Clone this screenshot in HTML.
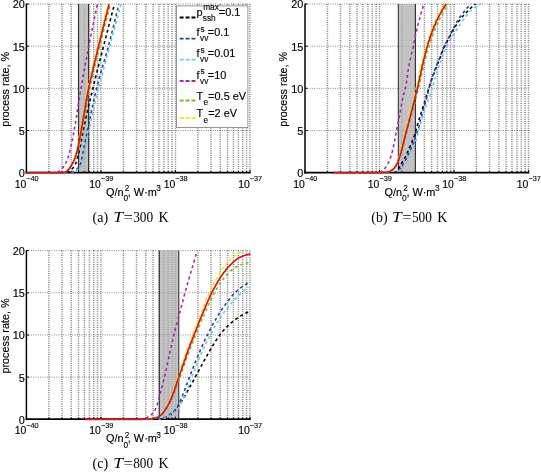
<!DOCTYPE html>
<html><head><meta charset="utf-8"><title>process rate</title>
<style>
html,body{margin:0;padding:0;background:#fff;}
body{width:541px;height:472px;overflow:hidden;}
svg{display:block;}
text{font-family:"Liberation Sans",sans-serif;fill:#000;}
.m{font-size:10.9px;stroke:#000;stroke-width:0.15px;}
.s{font-size:7.3px;stroke:#000;stroke-width:0.12px;}
.s2{font-size:8.3px;stroke:#000;stroke-width:0.12px;}
.c{font-family:"Liberation Serif",serif;font-size:14px;}
</style></head><body>
<svg width="541" height="472" viewBox="0 0 541 472">
<rect width="541" height="472" fill="#fff"/>
<path d="M48.88 4.0V172.7M62.00 4.0V172.7M71.30 4.0V172.7M78.52 4.0V172.7M84.42 4.0V172.7M89.41 4.0V172.7M93.73 4.0V172.7M97.54 4.0V172.7M100.95 4.0V172.7M123.38 4.0V172.7M136.50 4.0V172.7M145.80 4.0V172.7M153.02 4.0V172.7M158.92 4.0V172.7M163.91 4.0V172.7M168.23 4.0V172.7M172.04 4.0V172.7M175.45 4.0V172.7M197.88 4.0V172.7M211.00 4.0V172.7M220.30 4.0V172.7M227.52 4.0V172.7M233.42 4.0V172.7M238.41 4.0V172.7M242.73 4.0V172.7M246.54 4.0V172.7M249.95 4.0V172.7" stroke="#1a1a1a" stroke-width="1.5" stroke-opacity="0.55" stroke-dasharray="0.9 1.35" fill="none"/>
<path d="M26.4 130.52H249.9M26.4 88.35H249.9M26.4 46.18H249.9M26.4 4.00H249.9" stroke="#1a1a1a" stroke-width="0.8" stroke-opacity="0.7" stroke-dasharray="0.9 1.4" fill="none"/>
<rect x="78.6" y="4.0" width="10.0" height="168.7" fill="#afafaf" fill-opacity="0.75"/>
<path d="M78.6 4.0V172.7M88.6 4.0V172.7" stroke="#111" stroke-width="0.9" fill="none"/>
<path d="M26.4 3.7V173.5" stroke="#000" stroke-width="1.5" fill="none"/>
<path d="M25.7 172.6H250.8" stroke="#000" stroke-width="1.8" fill="none"/>
<path d="M26.4 172.7h2.6M26.4 130.5h2.6M26.4 88.3h2.6M26.4 46.2h2.6M26.4 4.0h2.6M26.4 172.7v-2.7M101.0 172.7v-2.7M175.4 172.7v-2.7M249.9 172.7v-2.7M48.9 172.7v-1.7M62.0 172.7v-1.7M71.3 172.7v-1.7M78.5 172.7v-1.7M84.4 172.7v-1.7M89.4 172.7v-1.7M93.7 172.7v-1.7M97.5 172.7v-1.7M123.4 172.7v-1.7M136.5 172.7v-1.7M145.8 172.7v-1.7M153.0 172.7v-1.7M158.9 172.7v-1.7M163.9 172.7v-1.7M168.2 172.7v-1.7M172.0 172.7v-1.7M197.9 172.7v-1.7M211.0 172.7v-1.7M220.3 172.7v-1.7M227.5 172.7v-1.7M233.4 172.7v-1.7M238.4 172.7v-1.7M242.7 172.7v-1.7M246.5 172.7v-1.7" stroke="#000" stroke-width="1" fill="none"/>
<path d="M67.0 172.5 L69.1 171.4 L70.9 170.0 L72.5 168.6 L73.9 166.9 L75.0 164.9 L76.0 162.9 L76.7 160.8 L77.3 158.6 L77.9 156.4 L78.5 154.3 L79.0 152.1 L79.5 149.9 L80.0 147.7 L80.5 145.6 L80.9 143.4 L81.3 141.2 L81.6 138.9 L82.0 136.7 L82.4 134.5 L82.8 132.3 L83.3 130.1 L83.7 128.0 L84.2 125.8 L84.7 123.6 L85.1 121.4 L85.6 119.2 L86.1 117.0 L86.6 114.8 L87.1 112.7 L87.6 110.5 L88.1 108.3 L88.6 106.1 L89.1 103.9 L89.7 101.8 L90.2 99.6 L90.7 97.4 L91.2 95.2 L91.8 93.1 L92.3 90.9 L92.8 88.7 L93.3 86.5 L93.9 84.4 L94.4 82.2 L94.9 80.0 L95.5 77.8 L96.0 75.7 L96.5 73.5 L97.1 71.3 L97.6 69.2 L98.2 67.0 L98.7 64.8 L99.3 62.7 L99.8 60.5 L100.4 58.3 L100.9 56.2 L101.5 54.0 L102.1 51.8 L102.6 49.7 L103.2 47.5 L103.7 45.3 L104.3 43.2 L104.8 41.0 L105.4 38.8 L106.0 36.7 L106.5 34.5 L107.1 32.3 L107.7 30.2 L108.2 28.0 L108.8 25.8 L109.3 23.7 L109.9 21.5 L110.5 19.3 L111.1 17.2 L111.6 15.0 L112.2 12.8 L112.8 10.7 L113.3 8.5 L113.9 6.4 L114.5 4.2" stroke="#000000" stroke-width="1.6" stroke-dasharray="3.0 2.9" stroke-dashoffset="0" fill="none" stroke-linejoin="round"/>
<path d="M71.0 172.5 L73.2 171.6 L75.1 170.5 L76.9 169.1 L78.4 167.5 L79.7 165.6 L80.5 163.6 L81.2 161.5 L81.7 159.2 L82.2 157.0 L82.7 154.8 L83.1 152.6 L83.5 150.4 L83.9 148.2 L84.3 146.0 L84.7 143.8 L85.2 141.6 L85.6 139.4 L86.1 137.2 L86.5 135.0 L87.0 132.8 L87.5 130.6 L87.9 128.4 L88.4 126.2 L88.8 124.0 L89.3 121.8 L89.7 119.6 L90.2 117.4 L90.6 115.2 L91.1 113.0 L91.6 110.8 L92.0 108.6 L92.5 106.4 L93.0 104.2 L93.4 102.0 L93.9 99.8 L94.4 97.6 L94.9 95.4 L95.4 93.2 L95.9 91.1 L96.5 88.9 L97.0 86.7 L97.5 84.5 L98.1 82.4 L98.7 80.2 L99.3 78.0 L99.9 75.9 L100.5 73.7 L101.1 71.5 L101.8 69.4 L102.4 67.2 L103.0 65.1 L103.7 62.9 L104.3 60.8 L104.9 58.6 L105.6 56.5 L106.2 54.3 L106.8 52.1 L107.4 50.0 L108.0 47.8 L108.6 45.6 L109.1 43.5 L109.7 41.3 L110.2 39.1 L110.8 36.9 L111.4 34.8 L111.9 32.6 L112.5 30.4 L113.0 28.2 L113.6 26.0 L114.1 23.9 L114.6 21.7 L115.2 19.5 L115.7 17.3 L116.2 15.1 L116.7 12.9 L117.3 10.8 L117.8 8.6 L118.3 6.4 L118.8 4.2" stroke="#2a3fb0" stroke-width="1.6" stroke-dasharray="3.0 2.9" stroke-dashoffset="0" fill="none" stroke-linejoin="round"/>
<path d="M72.5 172.5 L74.7 171.6 L76.6 170.4 L78.4 169.1 L80.0 167.6 L81.3 165.7 L82.2 163.7 L82.8 161.6 L83.3 159.3 L83.8 157.1 L84.3 154.9 L84.7 152.7 L85.1 150.5 L85.5 148.3 L85.9 146.1 L86.3 143.9 L86.7 141.6 L87.2 139.4 L87.6 137.2 L88.0 135.0 L88.5 132.8 L89.0 130.6 L89.4 128.4 L89.9 126.2 L90.4 124.0 L90.8 121.8 L91.3 119.6 L91.8 117.4 L92.3 115.2 L92.7 113.0 L93.2 110.8 L93.7 108.6 L94.2 106.4 L94.7 104.3 L95.2 102.1 L95.7 99.9 L96.2 97.7 L96.8 95.5 L97.3 93.3 L97.8 91.1 L98.3 88.9 L98.9 86.8 L99.4 84.6 L100.0 82.4 L100.5 80.2 L101.1 78.1 L101.7 75.9 L102.3 73.7 L102.9 71.5 L103.5 69.4 L104.0 67.2 L104.6 65.0 L105.2 62.9 L105.8 60.7 L106.4 58.5 L107.0 56.4 L107.6 54.2 L108.2 52.0 L108.8 49.8 L109.4 47.7 L110.0 45.5 L110.6 43.3 L111.1 41.2 L111.7 39.0 L112.3 36.8 L112.9 34.6 L113.4 32.5 L114.0 30.3 L114.6 28.1 L115.2 25.9 L115.7 23.8 L116.3 21.6 L116.9 19.4 L117.5 17.2 L118.0 15.1 L118.6 12.9 L119.2 10.7 L119.8 8.5 L120.3 6.4 L120.9 4.2" stroke="#6cc9e4" stroke-width="1.6" stroke-dasharray="3.0 2.9" stroke-dashoffset="2" fill="none" stroke-linejoin="round"/>
<path d="M57.7 172.5 L59.5 171.1 L61.2 169.6 L62.6 168.0 L63.8 166.3 L65.0 164.4 L66.1 162.4 L67.0 160.3 L67.8 158.3 L68.5 156.2 L69.1 154.1 L69.7 151.9 L70.2 149.8 L70.7 147.6 L71.2 145.5 L71.7 143.3 L72.1 141.1 L72.6 139.0 L73.0 136.8 L73.4 134.6 L73.8 132.4 L74.2 130.3 L74.6 128.1 L74.9 125.9 L75.3 123.7 L75.7 121.6 L76.0 119.4 L76.4 117.2 L76.7 115.0 L77.1 112.8 L77.4 110.6 L77.7 108.5 L78.1 106.3 L78.4 104.1 L78.8 101.9 L79.1 99.7 L79.5 97.5 L79.8 95.4 L80.2 93.2 L80.5 91.0 L80.9 88.8 L81.3 86.6 L81.7 84.5 L82.1 82.3 L82.4 80.1 L82.8 77.9 L83.2 75.8 L83.6 73.6 L84.0 71.4 L84.4 69.2 L84.8 67.1 L85.2 64.9 L85.6 62.7 L86.1 60.5 L86.5 58.4 L86.9 56.2 L87.3 54.0 L87.7 51.9 L88.1 49.7 L88.5 47.5 L89.0 45.3 L89.4 43.2 L89.8 41.0 L90.2 38.8 L90.7 36.7 L91.1 34.5 L91.5 32.3 L92.0 30.2 L92.4 28.0 L92.9 25.8 L93.3 23.7 L93.8 21.5 L94.2 19.3 L94.7 17.2 L95.1 15.0 L95.6 12.8 L96.0 10.7 L96.5 8.5 L96.9 6.4 L97.4 4.2" stroke="#a628a8" stroke-width="1.6" stroke-dasharray="3.0 2.9" stroke-dashoffset="0" fill="none" stroke-linejoin="round"/>
<path d="M64.7 172.5 L66.7 171.3 L68.3 169.9 L69.8 168.2 L71.0 166.3 L72.2 164.5 L73.3 162.5 L74.4 160.5 L75.3 158.5 L76.1 156.5 L76.9 154.4 L77.5 152.2 L78.1 150.1 L78.7 147.9 L79.2 145.7 L79.6 143.5 L80.1 141.4 L80.5 139.2 L80.9 137.0 L81.3 134.8 L81.7 132.6 L82.1 130.4 L82.5 128.2 L82.9 126.0 L83.3 123.8 L83.7 121.6 L84.1 119.4 L84.4 117.2 L84.8 115.0 L85.2 112.8 L85.6 110.6 L86.0 108.4 L86.4 106.2 L86.7 104.0 L87.1 101.8 L87.5 99.6 L88.0 97.4 L88.4 95.2 L88.8 93.1 L89.2 90.9 L89.7 88.7 L90.1 86.5 L90.6 84.3 L91.1 82.1 L91.6 80.0 L92.1 77.8 L92.6 75.6 L93.1 73.5 L93.6 71.3 L94.1 69.1 L94.6 66.9 L95.2 64.8 L95.7 62.6 L96.2 60.4 L96.8 58.3 L97.3 56.1 L97.9 53.9 L98.4 51.8 L98.9 49.6 L99.5 47.5 L100.0 45.3 L100.5 43.1 L101.1 41.0 L101.6 38.8 L102.1 36.6 L102.7 34.5 L103.2 32.3 L103.8 30.1 L104.3 28.0 L104.9 25.8 L105.4 23.6 L106.0 21.5 L106.5 19.3 L107.1 17.2 L107.6 15.0 L108.2 12.8 L108.7 10.7 L109.3 8.5 L109.8 6.4 L110.4 4.2" stroke="#7bbf22" stroke-width="1.6" stroke-dasharray="3.0 2.9" stroke-dashoffset="0" fill="none" stroke-linejoin="round"/>
<path d="M64.7 172.5 L66.6 171.3 L68.2 169.9 L69.5 168.1 L70.7 166.1 L71.8 164.2 L72.8 162.2 L73.7 160.2 L74.5 158.1 L75.1 156.0 L75.7 153.9 L76.2 151.7 L76.6 149.5 L77.1 147.3 L77.5 145.2 L77.9 143.0 L78.4 140.8 L78.8 138.6 L79.2 136.4 L79.6 134.2 L80.0 132.1 L80.4 129.9 L80.7 127.7 L81.1 125.5 L81.5 123.3 L81.9 121.1 L82.2 118.9 L82.6 116.8 L83.0 114.6 L83.3 112.4 L83.7 110.2 L84.1 108.0 L84.4 105.8 L84.8 103.6 L85.2 101.4 L85.6 99.3 L86.0 97.1 L86.4 94.9 L86.8 92.7 L87.2 90.5 L87.6 88.4 L88.1 86.2 L88.5 84.0 L89.0 81.8 L89.5 79.7 L90.0 77.5 L90.4 75.3 L90.9 73.2 L91.4 71.0 L91.9 68.9 L92.5 66.7 L93.0 64.5 L93.5 62.4 L94.0 60.2 L94.5 58.1 L95.1 55.9 L95.6 53.8 L96.1 51.6 L96.6 49.4 L97.2 47.3 L97.7 45.1 L98.2 43.0 L98.7 40.8 L99.2 38.7 L99.8 36.5 L100.3 34.3 L100.8 32.2 L101.3 30.0 L101.9 27.9 L102.4 25.7 L102.9 23.6 L103.5 21.4 L104.0 19.3 L104.5 17.1 L105.1 15.0 L105.6 12.8 L106.2 10.7 L106.7 8.5 L107.3 6.4 L107.8 4.2" stroke="#f7e600" stroke-width="1.6" stroke-dasharray="3.0 2.9" stroke-dashoffset="3" fill="none" stroke-linejoin="round"/>
<path d="M26.4 172.7 L29.2 172.7 L31.9 172.7 L34.6 172.7 L37.3 172.7 L40.0 172.7 L42.7 172.7 L45.4 172.7 L48.2 172.7 L51.0 172.7 L53.8 172.7 L56.6 172.6 L59.3 172.6 L61.9 172.6 L64.4 172.5 L66.8 171.4 L68.7 169.4 L70.3 167.2 L71.7 164.9 L73.0 162.5 L74.2 160.0 L75.2 157.5 L76.0 155.0 L76.7 152.4 L77.4 149.7 L78.0 147.1 L78.6 144.4 L79.1 141.8 L79.6 139.1 L80.1 136.4 L80.6 133.8 L81.1 131.1 L81.5 128.4 L82.0 125.8 L82.5 123.1 L82.9 120.4 L83.4 117.8 L83.8 115.1 L84.3 112.4 L84.8 109.7 L85.2 107.1 L85.7 104.4 L86.1 101.7 L86.6 99.1 L87.1 96.4 L87.6 93.7 L88.1 91.1 L88.7 88.4 L89.2 85.8 L89.8 83.1 L90.4 80.5 L91.0 77.9 L91.6 75.2 L92.2 72.6 L92.8 69.9 L93.4 67.3 L94.1 64.7 L94.7 62.0 L95.4 59.4 L96.0 56.8 L96.7 54.1 L97.3 51.5 L97.9 48.9 L98.6 46.2 L99.2 43.6 L99.9 41.0 L100.5 38.4 L101.2 35.7 L101.8 33.1 L102.5 30.5 L103.1 27.8 L103.8 25.2 L104.4 22.6 L105.1 20.0 L105.8 17.3 L106.4 14.7 L107.1 12.1 L107.8 9.4 L108.4 6.8 L109.1 4.2" stroke="#e0141c" stroke-width="1.7" fill="none" stroke-linejoin="round"/>
<text x="24.8" y="177.1" text-anchor="end" class="m">0</text>
<text x="24.8" y="134.9" text-anchor="end" class="m">5</text>
<text x="24.8" y="92.8" text-anchor="end" class="m">10</text>
<text x="24.8" y="50.6" text-anchor="end" class="m">15</text>
<text x="24.8" y="8.4" text-anchor="end" class="m">20</text>
<text x="26.3" y="187.7" text-anchor="end" class="m" textLength="11.6" lengthAdjust="spacingAndGlyphs">10</text>
<text x="26.3" y="181.4" class="s">−40</text>
<text x="100.9" y="187.7" text-anchor="end" class="m" textLength="11.6" lengthAdjust="spacingAndGlyphs">10</text>
<text x="100.9" y="181.4" class="s">−39</text>
<text x="175.3" y="187.7" text-anchor="end" class="m" textLength="11.6" lengthAdjust="spacingAndGlyphs">10</text>
<text x="175.3" y="181.4" class="s">−38</text>
<text x="249.8" y="187.7" text-anchor="end" class="m" textLength="11.6" lengthAdjust="spacingAndGlyphs">10</text>
<text x="249.8" y="181.4" class="s">−37</text>
<text x="106.0" y="195.5" class="m">Q/n</text>
<text x="124.7" y="191.4" class="s2">2</text>
<text x="123.5" y="200.9" class="s2">0</text>
<text x="127.8" y="195.5" class="m">, W·m</text>
<text x="156.3" y="191.4" class="s2">3</text>
<text transform="translate(8.8 89.3) rotate(-90)" text-anchor="middle" class="m" style="font-size:10.8px">process rate, %</text>
<rect x="176.4" y="5.9" width="71.5" height="121.6" fill="#fff" stroke="#7a7a7a" stroke-width="0.8"/>
<path d="M179.7 17.5H195.4" stroke="#000000" stroke-width="1.8" stroke-dasharray="3.9 2.0" fill="none"/>
<text x="196.6" y="16.1" class="m">p</text>
<text x="203.2" y="10.3" class="s2">max</text>
<text x="202.8" y="20.7" class="s2">ssh</text>
<text x="218.8" y="16.1" class="m">=0.1</text>
<path d="M179.7 38.7H195.4" stroke="#2a3fb0" stroke-width="1.8" stroke-dasharray="3.9 2.0" fill="none"/>
<text x="196.6" y="36.3" class="m">f</text>
<text x="200.6" y="31.9" class="s2">s</text>
<text x="200.0" y="41.3" class="s2">vv</text>
<text x="207.8" y="36.3" class="m">=0.1</text>
<path d="M179.7 59.6H195.4" stroke="#6cc9e4" stroke-width="1.8" stroke-dasharray="3.9 2.0" fill="none"/>
<text x="196.6" y="57.2" class="m">f</text>
<text x="200.6" y="52.8" class="s2">s</text>
<text x="200.0" y="62.2" class="s2">vv</text>
<text x="207.8" y="57.2" class="m">=0.01</text>
<path d="M179.7 81.0H195.4" stroke="#a628a8" stroke-width="1.8" stroke-dasharray="3.9 2.0" fill="none"/>
<text x="196.6" y="78.6" class="m">f</text>
<text x="200.6" y="74.2" class="s2">s</text>
<text x="200.0" y="83.6" class="s2">vv</text>
<text x="207.8" y="78.6" class="m">=10</text>
<path d="M179.7 100.5H195.4" stroke="#7bbf22" stroke-width="1.8" stroke-dasharray="3.9 2.0" fill="none"/>
<text x="196.6" y="99.5" class="m">T</text>
<text x="203.4" y="104.9" class="s2">e</text>
<text x="208.2" y="99.5" class="m">=0.5 eV</text>
<path d="M179.7 118.2H195.4" stroke="#f7e600" stroke-width="1.8" stroke-dasharray="3.9 2.0" fill="none"/>
<text x="196.6" y="117.2" class="m">T</text>
<text x="203.4" y="122.6" class="s2">e</text>
<text x="208.2" y="117.2" class="m">=2 eV</text>
<text y="221.5" class="c"><tspan x="92.6">(a)</tspan><tspan x="113.2" font-style="italic" textLength="9.7" lengthAdjust="spacingAndGlyphs">T</tspan><tspan x="123.6" textLength="9.4" lengthAdjust="spacingAndGlyphs">=</tspan><tspan x="133.2" textLength="20" lengthAdjust="spacingAndGlyphs">300</tspan><tspan x="158.6">K</tspan></text>
<path d="M327.43 4.0V172.7M340.55 4.0V172.7M349.85 4.0V172.7M357.07 4.0V172.7M362.97 4.0V172.7M367.96 4.0V172.7M372.28 4.0V172.7M376.09 4.0V172.7M379.50 4.0V172.7M401.93 4.0V172.7M415.05 4.0V172.7M424.35 4.0V172.7M431.57 4.0V172.7M437.47 4.0V172.7M442.46 4.0V172.7M446.78 4.0V172.7M450.59 4.0V172.7M454.00 4.0V172.7M476.43 4.0V172.7M489.55 4.0V172.7M498.85 4.0V172.7M506.07 4.0V172.7M511.97 4.0V172.7M516.96 4.0V172.7M521.28 4.0V172.7M525.09 4.0V172.7M528.50 4.0V172.7" stroke="#1a1a1a" stroke-width="1.5" stroke-opacity="0.55" stroke-dasharray="0.9 1.35" fill="none"/>
<path d="M305.0 130.52H528.5M305.0 88.35H528.5M305.0 46.18H528.5M305.0 4.00H528.5" stroke="#1a1a1a" stroke-width="0.8" stroke-opacity="0.7" stroke-dasharray="0.9 1.4" fill="none"/>
<rect x="398.3" y="4.0" width="17.1" height="168.7" fill="#afafaf" fill-opacity="0.75"/>
<path d="M398.3 4.0V172.7M415.4 4.0V172.7" stroke="#111" stroke-width="0.9" fill="none"/>
<path d="M305.0 3.7V173.5" stroke="#000" stroke-width="1.5" fill="none"/>
<path d="M304.2 172.6H529.4" stroke="#000" stroke-width="1.8" fill="none"/>
<path d="M305.0 172.7h2.6M305.0 130.5h2.6M305.0 88.3h2.6M305.0 46.2h2.6M305.0 4.0h2.6M305.0 172.7v-2.7M379.5 172.7v-2.7M454.0 172.7v-2.7M528.5 172.7v-2.7M327.4 172.7v-1.7M340.5 172.7v-1.7M349.9 172.7v-1.7M357.1 172.7v-1.7M363.0 172.7v-1.7M368.0 172.7v-1.7M372.3 172.7v-1.7M376.1 172.7v-1.7M401.9 172.7v-1.7M415.0 172.7v-1.7M424.4 172.7v-1.7M431.6 172.7v-1.7M437.5 172.7v-1.7M442.5 172.7v-1.7M446.8 172.7v-1.7M450.6 172.7v-1.7M476.4 172.7v-1.7M489.5 172.7v-1.7M498.9 172.7v-1.7M506.1 172.7v-1.7M512.0 172.7v-1.7M517.0 172.7v-1.7M521.3 172.7v-1.7M525.1 172.7v-1.7" stroke="#000" stroke-width="1" fill="none"/>
<path d="M394.0 172.6 L396.2 171.7 L397.8 169.9 L399.0 167.8 L400.2 165.7 L401.4 163.6 L402.7 161.5 L404.0 159.5 L405.2 157.4 L406.2 155.3 L407.1 153.0 L408.1 150.8 L409.0 148.6 L410.0 146.4 L411.0 144.2 L411.9 142.0 L412.8 139.8 L413.7 137.5 L414.5 135.2 L415.2 133.0 L415.9 130.6 L416.5 128.3 L417.2 126.0 L417.8 123.7 L418.5 121.4 L419.2 119.1 L419.9 116.8 L420.7 114.5 L421.4 112.2 L422.1 109.9 L422.8 107.6 L423.5 105.3 L424.3 103.0 L425.0 100.7 L425.7 98.4 L426.4 96.1 L427.1 93.8 L427.8 91.5 L428.5 89.2 L429.2 86.9 L430.0 84.6 L430.8 82.4 L431.5 80.1 L432.3 77.8 L433.1 75.6 L434.0 73.3 L434.8 71.0 L435.7 68.8 L436.6 66.6 L437.4 64.3 L438.3 62.1 L439.2 59.8 L440.1 57.6 L441.0 55.4 L441.8 53.1 L442.7 50.9 L443.7 48.7 L444.6 46.5 L445.7 44.3 L446.8 42.2 L447.9 40.0 L449.0 37.9 L450.1 35.8 L451.3 33.6 L452.4 31.5 L453.6 29.4 L454.8 27.4 L456.1 25.3 L457.4 23.3 L458.8 21.3 L460.2 19.4 L461.7 17.5 L463.3 15.7 L464.9 13.9 L466.6 12.2 L468.3 10.4 L470.0 8.8 L471.7 7.1 L473.6 5.6 L475.4 4.0" stroke="#000000" stroke-width="1.6" stroke-dasharray="3.0 2.9" stroke-dashoffset="0" fill="none" stroke-linejoin="round"/>
<path d="M395.5 172.6 L397.7 171.7 L399.3 170.0 L400.7 168.1 L401.9 166.0 L403.1 164.0 L404.4 162.0 L405.7 160.0 L406.8 157.9 L407.7 155.7 L408.6 153.5 L409.6 151.3 L410.6 149.2 L411.5 147.0 L412.5 144.9 L413.4 142.7 L414.2 140.4 L415.0 138.2 L415.8 136.0 L416.6 133.7 L417.3 131.5 L418.1 129.2 L418.8 127.0 L419.4 124.7 L420.0 122.4 L420.6 120.1 L421.2 117.8 L421.8 115.5 L422.4 113.2 L423.0 111.0 L423.6 108.7 L424.2 106.4 L424.9 104.1 L425.5 101.8 L426.2 99.6 L426.9 97.3 L427.5 95.0 L428.0 92.7 L428.5 90.4 L429.1 88.1 L429.7 85.8 L430.3 83.5 L431.0 81.2 L431.7 79.0 L432.4 76.7 L433.1 74.5 L433.9 72.2 L434.8 70.0 L435.6 67.8 L436.5 65.6 L437.4 63.4 L438.3 61.2 L439.2 59.0 L440.0 56.8 L440.8 54.6 L441.7 52.3 L442.6 50.1 L443.5 48.0 L444.4 45.8 L445.5 43.7 L446.7 41.6 L447.8 39.5 L448.9 37.4 L449.9 35.3 L451.0 33.2 L452.0 31.1 L453.1 29.0 L454.2 26.9 L455.3 24.8 L456.5 22.7 L457.6 20.6 L458.9 18.6 L460.2 16.7 L461.6 14.8 L463.1 12.9 L464.6 11.0 L466.1 9.2 L467.6 7.4 L469.2 5.7 L470.9 4.0" stroke="#2a3fb0" stroke-width="1.6" stroke-dasharray="3.0 2.9" stroke-dashoffset="2" fill="none" stroke-linejoin="round"/>
<path d="M396.5 172.6 L398.6 171.4 L400.5 169.9 L402.3 168.1 L403.8 166.3 L405.2 164.3 L406.5 162.2 L407.7 160.0 L408.6 157.8 L409.6 155.5 L410.5 153.3 L411.6 151.1 L412.6 148.8 L413.5 146.6 L414.5 144.4 L415.4 142.1 L416.2 139.8 L417.0 137.5 L417.6 135.1 L418.2 132.8 L418.8 130.4 L419.5 128.0 L420.1 125.7 L420.7 123.3 L421.4 121.0 L422.0 118.6 L422.7 116.3 L423.5 113.9 L424.3 111.6 L425.0 109.3 L425.8 107.0 L426.6 104.7 L427.3 102.4 L428.2 100.1 L429.0 97.8 L429.9 95.5 L430.8 93.2 L431.5 90.9 L432.2 88.6 L432.9 86.2 L433.5 83.8 L434.2 81.5 L434.8 79.1 L435.5 76.8 L436.2 74.4 L436.9 72.1 L437.7 69.8 L438.6 67.5 L439.5 65.2 L440.3 63.0 L441.2 60.7 L442.1 58.4 L442.9 56.1 L443.7 53.8 L444.6 51.5 L445.4 49.2 L446.4 47.0 L447.4 44.8 L448.6 42.6 L449.8 40.5 L451.1 38.4 L452.4 36.4 L453.7 34.3 L455.0 32.2 L456.3 30.2 L457.6 28.1 L459.0 26.1 L460.4 24.1 L461.8 22.1 L463.2 20.1 L464.6 18.1 L466.1 16.2 L467.7 14.3 L469.3 12.5 L471.0 10.7 L472.8 9.0 L474.7 7.5 L476.7 6.1 L478.7 4.8 L480.9 3.6" stroke="#6cc9e4" stroke-width="1.6" stroke-dasharray="3.0 2.9" stroke-dashoffset="4" fill="none" stroke-linejoin="round"/>
<path d="M379.9 172.5 L381.8 171.3 L383.6 170.0 L385.0 168.3 L386.3 166.4 L387.4 164.5 L388.4 162.6 L389.3 160.5 L390.2 158.4 L390.9 156.3 L391.6 154.2 L392.2 152.0 L392.7 149.9 L393.2 147.7 L393.7 145.5 L394.2 143.3 L394.6 141.2 L395.0 139.0 L395.4 136.8 L395.8 134.6 L396.2 132.4 L396.6 130.2 L397.0 128.0 L397.4 125.8 L397.9 123.6 L398.3 121.5 L398.8 119.3 L399.2 117.1 L399.7 114.9 L400.1 112.7 L400.5 110.5 L400.9 108.3 L401.3 106.1 L401.7 103.9 L402.1 101.7 L402.5 99.6 L402.9 97.4 L403.4 95.2 L404.0 93.1 L404.6 90.9 L405.2 88.8 L405.7 86.6 L406.1 84.4 L406.5 82.2 L406.8 80.0 L407.1 77.8 L407.4 75.6 L407.7 73.4 L408.0 71.2 L408.4 69.0 L408.7 66.8 L409.2 64.6 L409.6 62.4 L410.1 60.2 L410.6 58.1 L411.1 55.9 L411.6 53.7 L412.1 51.5 L412.6 49.4 L413.1 47.2 L413.5 45.0 L414.0 42.8 L414.4 40.7 L414.9 38.5 L415.3 36.3 L415.8 34.1 L416.3 31.9 L416.8 29.8 L417.4 27.6 L417.9 25.4 L418.4 23.3 L419.0 21.1 L419.6 19.0 L420.1 16.8 L420.7 14.7 L421.3 12.5 L422.0 10.4 L422.6 8.3 L423.2 6.1 L423.9 4.0" stroke="#a628a8" stroke-width="1.6" stroke-dasharray="3.0 2.9" stroke-dashoffset="0" fill="none" stroke-linejoin="round"/>
<path d="M385.5 172.3 L387.8 171.9 L390.0 171.2 L392.1 170.1 L393.9 168.7 L395.4 166.9 L396.7 164.9 L397.7 162.9 L398.7 160.8 L399.5 158.6 L400.3 156.3 L401.0 154.1 L401.7 151.9 L402.3 149.7 L403.0 147.4 L403.6 145.2 L404.2 143.0 L404.8 140.7 L405.3 138.4 L405.9 136.2 L406.4 133.9 L407.0 131.7 L407.6 129.4 L408.2 127.2 L408.8 124.9 L409.4 122.7 L410.1 120.5 L410.7 118.2 L411.3 116.0 L411.9 113.7 L412.5 111.5 L413.1 109.2 L413.7 107.0 L414.2 104.7 L414.8 102.5 L415.4 100.2 L416.0 98.0 L416.6 95.7 L417.2 93.5 L417.8 91.2 L418.4 89.0 L418.9 86.7 L419.5 84.4 L420.0 82.2 L420.5 79.9 L421.0 77.6 L421.5 75.4 L422.0 73.1 L422.6 70.8 L423.1 68.6 L423.6 66.3 L424.2 64.0 L424.7 61.8 L425.3 59.5 L425.9 57.3 L426.5 55.0 L427.1 52.8 L427.7 50.5 L428.4 48.3 L429.1 46.1 L429.8 43.9 L430.5 41.6 L431.2 39.4 L432.0 37.3 L432.8 35.1 L433.6 32.9 L434.5 30.7 L435.3 28.6 L436.2 26.4 L437.2 24.3 L438.1 22.2 L439.1 20.1 L440.2 18.0 L441.2 15.9 L442.4 13.9 L443.5 11.9 L444.7 9.9 L445.9 7.9 L447.2 5.9 L448.5 4.0" stroke="#7bbf22" stroke-width="1.6" stroke-dasharray="3.0 2.9" stroke-dashoffset="0" fill="none" stroke-linejoin="round"/>
<path d="M385.5 172.3 L387.8 171.9 L390.0 171.2 L392.0 170.1 L393.7 168.6 L395.2 166.8 L396.3 164.7 L397.2 162.6 L397.9 160.4 L398.6 158.2 L399.3 156.0 L399.9 153.7 L400.4 151.5 L400.9 149.3 L401.5 147.0 L402.0 144.8 L402.5 142.5 L403.1 140.3 L403.6 138.0 L404.2 135.8 L404.7 133.5 L405.3 131.3 L405.8 129.1 L406.4 126.8 L407.0 124.6 L407.6 122.4 L408.2 120.1 L408.8 117.9 L409.4 115.7 L410.0 113.4 L410.6 111.2 L411.1 109.0 L411.7 106.7 L412.2 104.5 L412.8 102.2 L413.3 100.0 L413.9 97.8 L414.4 95.5 L415.0 93.3 L415.6 91.0 L416.1 88.8 L416.7 86.6 L417.2 84.3 L417.7 82.0 L418.1 79.8 L418.6 77.5 L419.1 75.3 L419.6 73.0 L420.0 70.7 L420.5 68.5 L421.0 66.2 L421.5 64.0 L422.1 61.7 L422.6 59.5 L423.2 57.3 L423.7 55.0 L424.3 52.8 L424.9 50.5 L425.5 48.3 L426.1 46.1 L426.8 43.9 L427.4 41.7 L428.1 39.5 L428.9 37.3 L429.6 35.1 L430.4 32.9 L431.2 30.8 L432.0 28.6 L432.9 26.4 L433.8 24.3 L434.7 22.2 L435.7 20.1 L436.6 18.0 L437.7 16.0 L438.8 13.9 L439.9 11.9 L441.0 9.9 L442.2 7.9 L443.4 6.0 L444.7 4.0" stroke="#f7e600" stroke-width="1.6" stroke-dasharray="3.0 2.9" stroke-dashoffset="3" fill="none" stroke-linejoin="round"/>
<path d="M333.5 172.7 L336.5 172.7 L339.4 172.7 L342.4 172.7 L345.4 172.7 L348.4 172.7 L351.3 172.7 L354.3 172.7 L357.3 172.7 L360.3 172.7 L363.2 172.7 L366.2 172.7 L369.2 172.7 L372.2 172.6 L375.2 172.6 L378.2 172.5 L381.1 172.4 L384.1 172.4 L387.0 172.1 L389.9 171.2 L392.5 169.8 L394.6 167.8 L396.3 165.3 L397.6 162.6 L398.6 159.8 L399.6 157.0 L400.5 154.2 L401.3 151.3 L402.0 148.4 L402.8 145.5 L403.5 142.7 L404.2 139.8 L404.9 136.9 L405.6 134.0 L406.3 131.1 L407.1 128.2 L407.9 125.4 L408.7 122.5 L409.4 119.6 L410.2 116.8 L411.0 113.9 L411.7 111.0 L412.4 108.1 L413.1 105.2 L413.9 102.3 L414.6 99.4 L415.3 96.6 L416.0 93.7 L416.8 90.8 L417.5 87.9 L418.2 85.0 L418.8 82.1 L419.4 79.2 L420.1 76.3 L420.7 73.4 L421.3 70.5 L421.9 67.6 L422.6 64.7 L423.3 61.8 L424.0 58.9 L424.7 56.0 L425.5 53.1 L426.2 50.3 L427.0 47.4 L427.9 44.5 L428.7 41.7 L429.6 38.9 L430.6 36.1 L431.6 33.3 L432.6 30.5 L433.7 27.7 L434.9 24.9 L436.1 22.2 L437.3 19.5 L438.6 16.9 L440.0 14.2 L441.4 11.6 L442.9 9.1 L444.5 6.5 L446.1 4.0" stroke="#e0141c" stroke-width="1.7" fill="none" stroke-linejoin="round"/>
<text x="303.3" y="177.1" text-anchor="end" class="m">0</text>
<text x="303.3" y="134.9" text-anchor="end" class="m">5</text>
<text x="303.3" y="92.8" text-anchor="end" class="m">10</text>
<text x="303.3" y="50.6" text-anchor="end" class="m">15</text>
<text x="303.3" y="8.4" text-anchor="end" class="m">20</text>
<text x="304.9" y="187.7" text-anchor="end" class="m" textLength="11.6" lengthAdjust="spacingAndGlyphs">10</text>
<text x="304.9" y="181.4" class="s">−40</text>
<text x="379.4" y="187.7" text-anchor="end" class="m" textLength="11.6" lengthAdjust="spacingAndGlyphs">10</text>
<text x="379.4" y="181.4" class="s">−39</text>
<text x="453.9" y="187.7" text-anchor="end" class="m" textLength="11.6" lengthAdjust="spacingAndGlyphs">10</text>
<text x="453.9" y="181.4" class="s">−38</text>
<text x="528.4" y="187.7" text-anchor="end" class="m" textLength="11.6" lengthAdjust="spacingAndGlyphs">10</text>
<text x="528.4" y="181.4" class="s">−37</text>
<text x="384.5" y="195.5" class="m">Q/n</text>
<text x="403.2" y="191.4" class="s2">2</text>
<text x="402.0" y="200.9" class="s2">0</text>
<text x="406.4" y="195.5" class="m">, W·m</text>
<text x="434.9" y="191.4" class="s2">3</text>
<text transform="translate(287.4 89.3) rotate(-90)" text-anchor="middle" class="m" style="font-size:10.8px">process rate, %</text>
<text y="221.5" class="c"><tspan x="371.3">(b)</tspan><tspan x="391.9" font-style="italic" textLength="9.7" lengthAdjust="spacingAndGlyphs">T</tspan><tspan x="402.3" textLength="9.4" lengthAdjust="spacingAndGlyphs">=</tspan><tspan x="411.9" textLength="20" lengthAdjust="spacingAndGlyphs">500</tspan><tspan x="437.3">K</tspan></text>
<path d="M48.88 250.6V419.3M62.00 250.6V419.3M71.30 250.6V419.3M78.52 250.6V419.3M84.42 250.6V419.3M89.41 250.6V419.3M93.73 250.6V419.3M97.54 250.6V419.3M100.95 250.6V419.3M123.38 250.6V419.3M136.50 250.6V419.3M145.80 250.6V419.3M153.02 250.6V419.3M158.92 250.6V419.3M163.91 250.6V419.3M168.23 250.6V419.3M172.04 250.6V419.3M175.45 250.6V419.3M197.88 250.6V419.3M211.00 250.6V419.3M220.30 250.6V419.3M227.52 250.6V419.3M233.42 250.6V419.3M238.41 250.6V419.3M242.73 250.6V419.3M246.54 250.6V419.3M249.95 250.6V419.3" stroke="#1a1a1a" stroke-width="1.5" stroke-opacity="0.55" stroke-dasharray="0.9 1.35" fill="none"/>
<path d="M26.4 377.12H249.9M26.4 334.95H249.9M26.4 292.78H249.9M26.4 250.60H249.9" stroke="#1a1a1a" stroke-width="0.8" stroke-opacity="0.7" stroke-dasharray="0.9 1.4" fill="none"/>
<rect x="159.3" y="250.6" width="19.5" height="168.7" fill="#afafaf" fill-opacity="0.75"/>
<path d="M159.3 250.6V419.3M178.8 250.6V419.3" stroke="#111" stroke-width="0.9" fill="none"/>
<path d="M26.4 250.3V420.1" stroke="#000" stroke-width="1.5" fill="none"/>
<path d="M25.7 419.2H250.8" stroke="#000" stroke-width="1.8" fill="none"/>
<path d="M26.4 419.3h2.6M26.4 377.1h2.6M26.4 335.0h2.6M26.4 292.8h2.6M26.4 250.6h2.6M26.4 419.3v-2.7M101.0 419.3v-2.7M175.4 419.3v-2.7M249.9 419.3v-2.7M48.9 419.3v-1.7M62.0 419.3v-1.7M71.3 419.3v-1.7M78.5 419.3v-1.7M84.4 419.3v-1.7M89.4 419.3v-1.7M93.7 419.3v-1.7M97.5 419.3v-1.7M123.4 419.3v-1.7M136.5 419.3v-1.7M145.8 419.3v-1.7M153.0 419.3v-1.7M158.9 419.3v-1.7M163.9 419.3v-1.7M168.2 419.3v-1.7M172.0 419.3v-1.7M197.9 419.3v-1.7M211.0 419.3v-1.7M220.3 419.3v-1.7M227.5 419.3v-1.7M233.4 419.3v-1.7M238.4 419.3v-1.7M242.7 419.3v-1.7M246.5 419.3v-1.7" stroke="#000" stroke-width="1" fill="none"/>
<path d="M158.0 419.2 L159.9 419.1 L161.8 418.7 L163.6 418.3 L165.3 417.8 L167.0 417.2 L168.6 416.4 L170.2 415.4 L171.7 414.2 L173.1 413.0 L174.3 411.7 L175.5 410.3 L176.7 408.8 L177.8 407.3 L178.9 405.8 L179.9 404.3 L180.8 402.7 L181.8 401.1 L182.7 399.5 L183.6 397.9 L184.6 396.3 L185.5 394.7 L186.4 393.1 L187.3 391.5 L188.2 389.9 L189.1 388.2 L190.0 386.6 L190.9 385.0 L191.8 383.4 L192.7 381.8 L193.6 380.1 L194.4 378.5 L195.3 376.9 L196.2 375.3 L197.1 373.7 L198.0 372.0 L198.9 370.4 L199.8 368.8 L200.6 367.2 L201.5 365.5 L202.4 363.9 L203.3 362.3 L204.2 360.7 L205.0 359.0 L205.9 357.4 L206.8 355.8 L207.8 354.2 L208.7 352.6 L209.6 351.0 L210.6 349.4 L211.5 347.8 L212.5 346.2 L213.4 344.6 L214.4 343.1 L215.4 341.5 L216.4 339.9 L217.4 338.4 L218.4 336.9 L219.5 335.4 L220.6 333.9 L221.7 332.5 L222.9 331.1 L224.1 329.7 L225.4 328.3 L226.7 327.0 L228.0 325.7 L229.4 324.4 L230.8 323.2 L232.2 322.0 L233.6 320.8 L235.1 319.7 L236.6 318.6 L238.1 317.5 L239.6 316.5 L241.2 315.6 L242.8 314.7 L244.4 313.8 L246.1 313.0 L247.8 312.2 L249.5 311.5" stroke="#000000" stroke-width="1.6" stroke-dasharray="3.0 2.9" stroke-dashoffset="0" fill="none" stroke-linejoin="round"/>
<path d="M158.0 419.2 L160.2 418.9 L162.3 418.4 L164.3 417.7 L166.3 416.9 L168.1 415.8 L169.9 414.5 L171.6 413.2 L173.3 411.8 L174.9 410.3 L176.1 408.7 L177.3 406.9 L178.3 405.0 L179.2 403.1 L180.1 401.0 L181.0 399.0 L181.8 397.0 L182.7 395.1 L183.5 393.1 L184.3 391.1 L185.0 389.0 L185.8 387.0 L186.5 385.0 L187.3 383.0 L188.0 381.0 L188.8 378.9 L189.5 376.9 L190.3 374.9 L191.1 372.9 L191.9 370.9 L192.7 368.9 L193.5 366.9 L194.2 364.9 L195.0 362.9 L195.8 360.9 L196.6 358.9 L197.5 356.9 L198.3 354.9 L199.1 352.9 L200.0 351.0 L200.8 349.0 L201.7 347.0 L202.6 345.1 L203.5 343.1 L204.4 341.1 L205.3 339.2 L206.3 337.3 L207.2 335.3 L208.2 333.4 L209.2 331.5 L210.1 329.6 L211.1 327.7 L212.1 325.7 L213.2 323.8 L214.2 322.0 L215.3 320.1 L216.4 318.2 L217.5 316.4 L218.6 314.6 L219.7 312.7 L220.9 310.9 L222.1 309.1 L223.3 307.4 L224.6 305.6 L225.8 303.9 L227.1 302.1 L228.4 300.4 L229.7 298.7 L231.1 297.0 L232.5 295.3 L233.9 293.7 L235.4 292.2 L237.0 290.8 L238.6 289.5 L240.3 288.1 L242.0 286.9 L243.8 285.6 L245.7 284.5 L247.6 283.3 L249.5 282.3" stroke="#2a3fb0" stroke-width="1.6" stroke-dasharray="3.0 2.9" stroke-dashoffset="0" fill="none" stroke-linejoin="round"/>
<path d="M159.0 419.2 L161.1 419.0 L163.2 418.5 L165.2 418.0 L167.1 417.3 L168.9 416.3 L170.7 415.1 L172.4 413.9 L174.1 412.6 L175.7 411.3 L177.2 409.8 L178.4 408.2 L179.5 406.5 L180.5 404.7 L181.4 402.8 L182.3 400.9 L183.2 398.9 L184.0 397.0 L184.9 395.1 L185.7 393.2 L186.4 391.3 L187.2 389.3 L187.9 387.4 L188.6 385.4 L189.4 383.5 L190.1 381.5 L190.8 379.5 L191.6 377.6 L192.3 375.6 L193.1 373.7 L193.9 371.8 L194.6 369.8 L195.4 367.9 L196.1 365.9 L196.9 364.0 L197.7 362.1 L198.5 360.1 L199.3 358.2 L200.1 356.3 L200.9 354.4 L201.7 352.5 L202.6 350.6 L203.4 348.7 L204.3 346.8 L205.2 344.9 L206.1 343.1 L207.1 341.2 L208.0 339.3 L209.0 337.5 L210.0 335.6 L210.9 333.8 L211.9 332.0 L212.9 330.1 L213.9 328.3 L214.9 326.5 L216.0 324.7 L217.0 322.9 L218.1 321.1 L219.2 319.3 L220.3 317.6 L221.5 315.9 L222.7 314.2 L224.0 312.5 L225.2 310.8 L226.5 309.2 L227.8 307.5 L229.1 305.9 L230.4 304.3 L231.8 302.7 L233.2 301.2 L234.6 299.6 L236.0 298.1 L237.5 296.6 L238.9 295.2 L240.5 293.8 L242.0 292.4 L243.6 291.0 L245.1 289.6 L246.8 288.3 L248.4 287.0" stroke="#6cc9e4" stroke-width="1.6" stroke-dasharray="3.0 2.9" stroke-dashoffset="1.5" fill="none" stroke-linejoin="round"/>
<path d="M140.0 419.2 L142.3 419.0 L144.6 418.6 L146.7 417.7 L148.7 416.5 L150.7 415.1 L152.5 413.6 L153.9 411.8 L155.0 410.0 L155.9 408.0 L156.7 405.9 L157.5 403.7 L158.2 401.4 L158.8 399.1 L159.4 396.8 L160.0 394.4 L160.6 392.1 L161.2 389.9 L161.8 387.6 L162.4 385.4 L163.0 383.2 L163.5 380.9 L164.1 378.7 L164.6 376.4 L165.1 374.1 L165.6 371.9 L166.1 369.6 L166.6 367.3 L167.1 365.1 L167.6 362.8 L168.1 360.5 L168.6 358.3 L169.1 356.0 L169.6 353.8 L170.1 351.5 L170.6 349.2 L171.1 347.0 L171.6 344.7 L172.1 342.5 L172.7 340.2 L173.2 337.9 L173.7 335.7 L174.2 333.4 L174.8 331.2 L175.4 328.9 L176.0 326.7 L176.6 324.5 L177.2 322.2 L177.8 320.0 L178.4 317.8 L179.0 315.5 L179.6 313.3 L180.2 311.1 L180.8 308.8 L181.4 306.6 L182.0 304.3 L182.6 302.1 L183.2 299.9 L183.8 297.6 L184.3 295.4 L184.9 293.1 L185.6 290.9 L186.2 288.7 L186.8 286.4 L187.4 284.2 L188.0 282.0 L188.7 279.7 L189.3 277.5 L189.9 275.3 L190.6 273.1 L191.2 270.9 L191.9 268.6 L192.6 266.4 L193.2 264.2 L193.9 262.0 L194.6 259.8 L195.2 257.5 L195.9 255.3 L196.6 253.1 L197.3 250.9" stroke="#a628a8" stroke-width="1.6" stroke-dasharray="3.0 2.9" stroke-dashoffset="0" fill="none" stroke-linejoin="round"/>
<path d="M146.0 419.3 L148.5 419.1 L151.0 418.8 L153.5 418.4 L156.0 417.8 L158.4 417.1 L160.4 416.1 L162.2 414.3 L163.8 412.3 L165.4 410.3 L166.8 408.3 L168.2 406.2 L169.4 404.0 L170.5 401.8 L171.5 399.6 L172.5 397.3 L173.5 395.0 L174.4 392.7 L175.2 390.3 L176.1 387.9 L176.9 385.6 L177.8 383.2 L178.6 380.8 L179.5 378.5 L180.3 376.2 L181.2 373.8 L182.0 371.5 L182.9 369.1 L183.7 366.8 L184.5 364.4 L185.3 362.1 L186.2 359.7 L187.0 357.4 L187.8 355.0 L188.7 352.7 L189.6 350.3 L190.5 348.0 L191.4 345.7 L192.3 343.4 L193.2 341.1 L194.1 338.7 L195.0 336.4 L196.0 334.1 L196.9 331.8 L197.9 329.5 L198.8 327.2 L199.8 324.9 L200.8 322.6 L201.7 320.3 L202.7 318.0 L203.7 315.7 L204.7 313.5 L205.7 311.2 L206.7 308.9 L207.7 306.6 L208.8 304.3 L209.8 302.0 L210.8 299.8 L211.9 297.5 L213.1 295.3 L214.2 293.1 L215.4 291.0 L216.7 288.8 L218.0 286.7 L219.4 284.6 L220.8 282.5 L222.2 280.5 L223.7 278.5 L225.3 276.6 L226.9 274.6 L228.6 272.8 L230.4 271.0 L232.3 269.5 L234.3 268.1 L236.5 266.8 L238.8 265.6 L241.1 264.7 L243.4 263.9 L245.8 263.3 L248.3 262.8" stroke="#7bbf22" stroke-width="1.6" stroke-dasharray="3.0 2.9" stroke-dashoffset="0" fill="none" stroke-linejoin="round"/>
<path d="M146.0 419.3 L148.6 419.1 L151.1 418.8 L153.6 418.3 L156.2 417.7 L158.6 416.8 L160.5 415.5 L162.2 413.5 L163.8 411.4 L165.3 409.3 L166.6 407.1 L167.8 404.8 L168.8 402.5 L169.8 400.2 L170.8 397.9 L171.7 395.5 L172.5 393.1 L173.3 390.6 L174.1 388.2 L174.9 385.7 L175.7 383.3 L176.5 380.8 L177.3 378.4 L178.2 376.0 L179.0 373.6 L179.8 371.2 L180.6 368.7 L181.4 366.3 L182.2 363.9 L183.0 361.5 L183.8 359.0 L184.7 356.6 L185.5 354.2 L186.3 351.8 L187.2 349.4 L188.1 347.0 L189.0 344.6 L189.9 342.2 L190.8 339.8 L191.7 337.4 L192.6 335.0 L193.5 332.7 L194.3 330.3 L195.2 327.9 L196.1 325.5 L197.0 323.1 L197.9 320.7 L198.8 318.3 L199.7 315.9 L200.7 313.5 L201.6 311.2 L202.5 308.8 L203.5 306.4 L204.4 304.0 L205.4 301.6 L206.3 299.3 L207.3 296.9 L208.4 294.6 L209.4 292.3 L210.5 290.0 L211.6 287.7 L212.8 285.4 L213.9 283.1 L215.1 280.8 L216.4 278.6 L217.7 276.4 L219.0 274.2 L220.4 272.1 L221.8 269.9 L223.3 267.8 L224.8 265.8 L226.4 263.8 L228.1 261.9 L229.8 260.0 L231.7 258.2 L233.6 256.5 L235.6 255.1 L237.8 253.8 L240.1 252.6 L242.5 251.6" stroke="#f7e600" stroke-width="1.6" stroke-dasharray="3.0 2.9" stroke-dashoffset="3" fill="none" stroke-linejoin="round"/>
<path d="M85.0 419.4 L88.4 419.4 L91.7 419.4 L95.1 419.4 L98.5 419.4 L101.9 419.4 L105.2 419.4 L108.6 419.4 L112.0 419.4 L115.3 419.4 L118.7 419.4 L122.1 419.4 L125.4 419.4 L128.8 419.4 L132.2 419.4 L135.6 419.3 L138.9 419.3 L142.3 419.3 L145.7 419.2 L149.0 419.0 L152.4 418.5 L155.8 417.8 L158.9 416.7 L161.5 414.7 L163.6 412.0 L165.6 409.3 L167.5 406.4 L169.0 403.4 L170.4 400.4 L171.7 397.3 L172.9 394.2 L174.1 391.0 L175.2 387.8 L176.3 384.6 L177.4 381.4 L178.5 378.2 L179.6 375.0 L180.7 371.8 L181.8 368.6 L182.9 365.4 L184.0 362.2 L185.1 359.1 L186.2 355.9 L187.3 352.7 L188.5 349.5 L189.6 346.4 L190.8 343.2 L192.1 340.1 L193.3 336.9 L194.5 333.8 L195.7 330.7 L197.0 327.5 L198.2 324.4 L199.4 321.2 L200.7 318.1 L202.0 315.0 L203.3 311.9 L204.6 308.8 L205.9 305.7 L207.2 302.6 L208.6 299.5 L210.0 296.4 L211.5 293.4 L213.0 290.4 L214.6 287.4 L216.2 284.5 L217.9 281.5 L219.7 278.7 L221.5 275.9 L223.5 273.1 L225.5 270.4 L227.7 267.7 L229.9 265.3 L232.3 263.0 L234.9 260.7 L237.6 258.6 L240.5 257.0 L243.6 255.8 L246.8 254.8 L250.2 254.1" stroke="#e0141c" stroke-width="1.7" fill="none" stroke-linejoin="round"/>
<text x="24.8" y="423.7" text-anchor="end" class="m">0</text>
<text x="24.8" y="381.5" text-anchor="end" class="m">5</text>
<text x="24.8" y="339.4" text-anchor="end" class="m">10</text>
<text x="24.8" y="297.2" text-anchor="end" class="m">15</text>
<text x="24.8" y="255.0" text-anchor="end" class="m">20</text>
<text x="26.3" y="434.3" text-anchor="end" class="m" textLength="11.6" lengthAdjust="spacingAndGlyphs">10</text>
<text x="26.3" y="428.0" class="s">−40</text>
<text x="100.9" y="434.3" text-anchor="end" class="m" textLength="11.6" lengthAdjust="spacingAndGlyphs">10</text>
<text x="100.9" y="428.0" class="s">−39</text>
<text x="175.3" y="434.3" text-anchor="end" class="m" textLength="11.6" lengthAdjust="spacingAndGlyphs">10</text>
<text x="175.3" y="428.0" class="s">−38</text>
<text x="249.8" y="434.3" text-anchor="end" class="m" textLength="11.6" lengthAdjust="spacingAndGlyphs">10</text>
<text x="249.8" y="428.0" class="s">−37</text>
<text x="106.0" y="442.1" class="m">Q/n</text>
<text x="124.7" y="438.0" class="s2">2</text>
<text x="123.5" y="447.5" class="s2">0</text>
<text x="127.8" y="442.1" class="m">, W·m</text>
<text x="156.3" y="438.0" class="s2">3</text>
<text transform="translate(8.8 336.0) rotate(-90)" text-anchor="middle" class="m" style="font-size:10.8px">process rate, %</text>
<text y="468.4" class="c"><tspan x="92.6">(c)</tspan><tspan x="113.2" font-style="italic" textLength="9.7" lengthAdjust="spacingAndGlyphs">T</tspan><tspan x="123.6" textLength="9.4" lengthAdjust="spacingAndGlyphs">=</tspan><tspan x="133.2" textLength="20" lengthAdjust="spacingAndGlyphs">800</tspan><tspan x="158.6">K</tspan></text>
</svg>
</body></html>
